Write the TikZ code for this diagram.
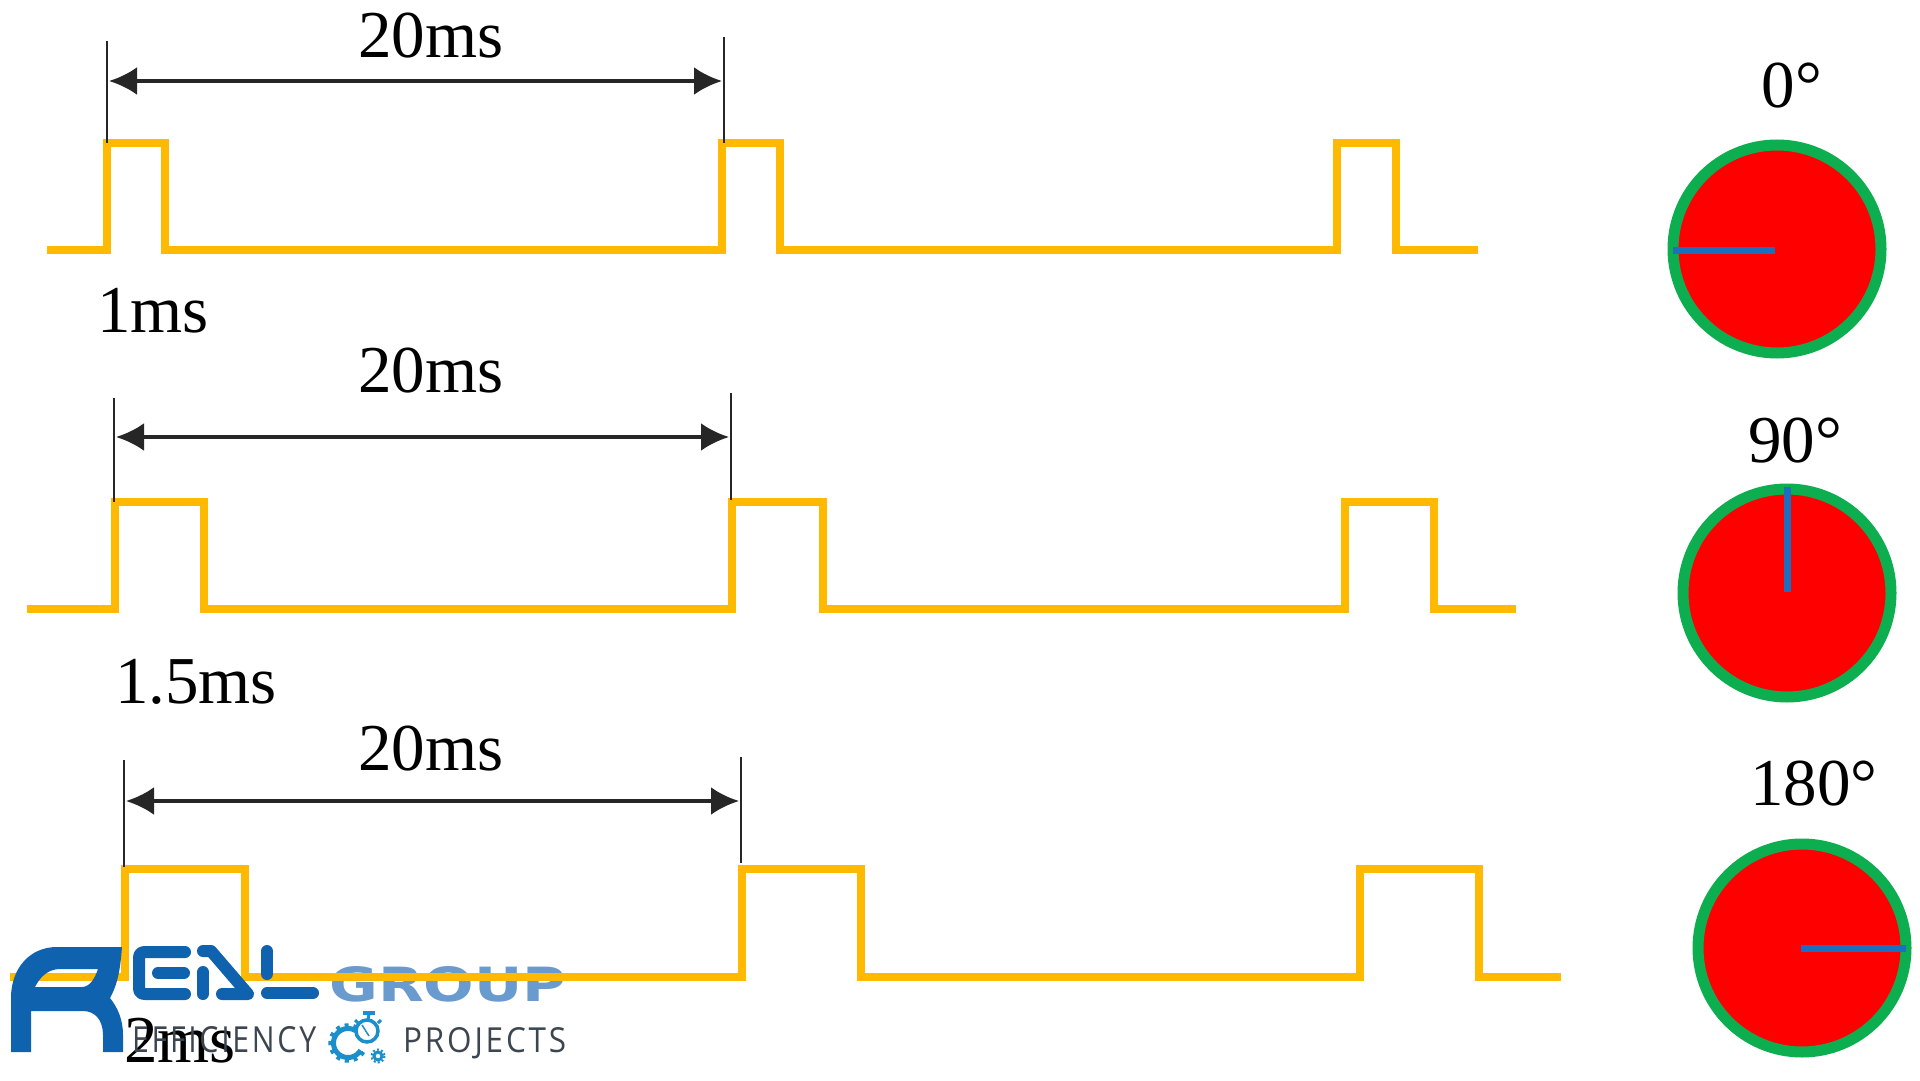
\documentclass[tikz,border=0pt]{standalone}
\usepackage{fontspec}
\setmainfont{Liberation Serif}
\newfontfamily\logofont[LetterSpace=9]{Open Sans}
\newfontfamily\grpfont{DejaVu Sans}
\usetikzlibrary{arrows.meta}
\definecolor{wave}{HTML}{FFB900}
\definecolor{ringg}{HTML}{0DAE50}
\definecolor{needle}{HTML}{1C6FC0}
\definecolor{logoblue}{HTML}{0F62AE}
\definecolor{logolight}{HTML}{6A9BCF}
\definecolor{logogrey}{HTML}{3C4650}
\definecolor{logocyan}{HTML}{1B8FCB}
\tikzset{
  wavepath/.style={draw=wave,line width=7.5pt,line join=miter},
  wavebump/.style={draw=wave,line width=8.5pt},
  tick/.style={draw=black!85,line width=2.2pt},
  span/.style={draw=black!85,line width=4pt,{Latex[length=28pt,width=28pt]}-{Latex[length=28pt,width=28pt]},shorten <=1pt,shorten >=1pt},
  lab/.style={inner sep=0pt,font=\fontsize{67}{72}\selectfont,text=black},
  dial/.style={circle,draw=ringg,fill=red,line width=11pt,minimum size=208pt,inner sep=0pt},
  needleline/.style={draw=needle,line width=7pt},
  logostroke/.style={draw=logoblue,line width=12pt,line cap=round,line join=round},
  cyanstroke/.style={draw=logocyan,line cap=butt},
}
\begin{document}
\begin{tikzpicture}[x=1pt,y=-1pt]
\useasboundingbox[fill=white] (0,0) rectangle (1920,1081);
% GROUP lies under the wave
\node[inner sep=0pt,anchor=base west,text=logolight] (grp) at (329,1001) {\resizebox{237pt}{35pt}{\grpfont\bfseries GROUP}};
% row 1
\draw[wavepath] (47,250) -| (107,143) -| (165,250) -| (722,143) -| (780,250) -| (1337,143) -| (1396,250) -- (1478,250);
\coordinate (a1) at (107,41); \coordinate (a1b) at (107,143);
\coordinate (b1) at (724,37); \coordinate (b1b) at (724,143);
\draw[tick] (a1) -- (a1b);
\draw[tick] (b1) -- (b1b);
\coordinate (s1) at (108,81); \coordinate (e1) at (723,81);
\draw[span] (s1) -- (e1);
\node[lab] (t20a) at (431,36) {20ms};
\node[lab] (t1ms) at (153,311) {1ms};
% row 2
\draw[wavepath] (27,609) -| (115,502) -| (204,609) -| (732,502) -| (823,609) -| (1345,502) -| (1434,609) -- (1516,609);
\draw[wavebump] (646,609) -- (680,609);
\draw[wavebump] (1260,609) -- (1298,609);
\coordinate (a2) at (114,398); \coordinate (a2b) at (114,502);
\coordinate (b2) at (731,393); \coordinate (b2b) at (731,500);
\draw[tick] (a2) -- (a2b);
\draw[tick] (b2) -- (b2b);
\coordinate (s2) at (115,437); \coordinate (e2) at (730,437);
\draw[span] (s2) -- (e2);
\node[lab] (t20b) at (431,371) {20ms};
\node[lab] (t15ms) at (196,682) {1.5ms};
% row 3
\node[lab] (t2ms) at (180,1041) {2ms};
\draw[wavepath] (10,977) -| (125,869) -| (245,977) -| (742,869) -| (861,977) -| (1360,869) -| (1479,977) -- (1561,977);
\draw[wavebump] (625,977) -- (725,977);
\draw[wavebump] (1245,977) -- (1335,977);
\coordinate (a3) at (124,760); \coordinate (a3b) at (124,867);
\coordinate (b3) at (741,757); \coordinate (b3b) at (741,863);
\draw[tick] (a3) -- (a3b);
\draw[tick] (b3) -- (b3b);
\coordinate (s3) at (125,801); \coordinate (e3) at (740,801);
\draw[span] (s3) -- (e3);
\node[lab] (t20c) at (431,749) {20ms};
% dials
\node[lab] (d0) at (1792,86) {0°};
\node[dial] (c0) at (1777,249) {};
\coordinate (n0) at (1775,250); \coordinate (n0b) at (1673,250);
\draw[needleline] (n0) -- (n0b);
\node[lab] (d90) at (1795,441) {90°};
\node[dial] (c90) at (1787,593) {};
\coordinate (n90) at (1787,592); \coordinate (n90b) at (1787,487);
\draw[needleline] (n90) -- (n90b);
\node[lab] (d180) at (1814,784) {180°};
\node[dial] (c180) at (1802,948) {};
\coordinate (n180) at (1801,948); \coordinate (n180b) at (1906,948);
\draw[needleline] (n180) -- (n180b);
% logo: R
\path[fill=logoblue,even odd rule]
  (11,1052) -- (11,998) .. controls (11,968) and (30,947) .. (57,947) -- (122,947)
  .. controls (120,975) and (116,987) .. (110,998) .. controls (118,1008) and (123,1020) .. (123,1035)
  -- (123,1052) -- (103,1052) -- (103,1035) .. controls (103,1020) and (95,1011) .. (83,1011)
  -- (31,1011) -- (31,1052) -- cycle
  (35,987) .. controls (40,977) and (48,969) .. (60,969) -- (98,969)
  .. controls (95,978) and (90,987) .. (82,987) -- cycle;
% E
\path[logostroke] (185,952) -- (145,952) .. controls (141,952) and (139,954) .. (139,958) -- (139,988) .. controls (139,992) and (141,994) .. (145,994) -- (185,994);
\path[logostroke] (158,973) -- (184,973);
% A
\path[logostroke] (203,951) -- (211,951) -- (248,994) -- (222,994);
\path[logostroke] (203,972) -- (203,994);
% L
\path[logostroke] (267,951) -- (267,974);
\path[logostroke] (267,993) -- (313,993);
% tagline
\node[inner sep=0pt,anchor=base west,text=logogrey] (eff) at (132,1052) {\resizebox{184pt}{26pt}{\logofont EFFICIENCY}};
\node[inner sep=0pt,anchor=base west,text=logogrey] (prj) at (403,1052) {\resizebox{163pt}{25pt}{\logofont PROJECTS}};
% icon
\draw[cyanstroke,line width=5pt] plot[smooth,domain=30:302,samples=40] ({348+14.5*cos(\x)},{1043+14.5*sin(\x)});
\draw[cyanstroke,line width=3.5pt,dash pattern=on 4pt off 5pt] plot[smooth,domain=30:302,samples=40] ({348+18*cos(\x)},{1043+18*sin(\x)});
\draw[cyanstroke,line width=3.5pt] (367,1031) circle[radius=11];
\draw[cyanstroke,line width=4pt] (363,1012.5) -- (375,1012.5);
\draw[cyanstroke,line width=3pt] (369,1014) -- (368,1020);
\draw[cyanstroke,line width=3pt] (355,1020) -- (358,1023);
\draw[cyanstroke,line width=3pt] (381,1020) -- (378,1023);
\draw[cyanstroke,line width=1.5pt] (369,1036) -- (362,1025);
\draw[cyanstroke,line width=3pt] (378,1056) circle[radius=4];
\draw[cyanstroke,line width=2pt,dash pattern=on 2pt off 2.2pt] (378,1056) circle[radius=6.5];
\end{tikzpicture}
\end{document}
